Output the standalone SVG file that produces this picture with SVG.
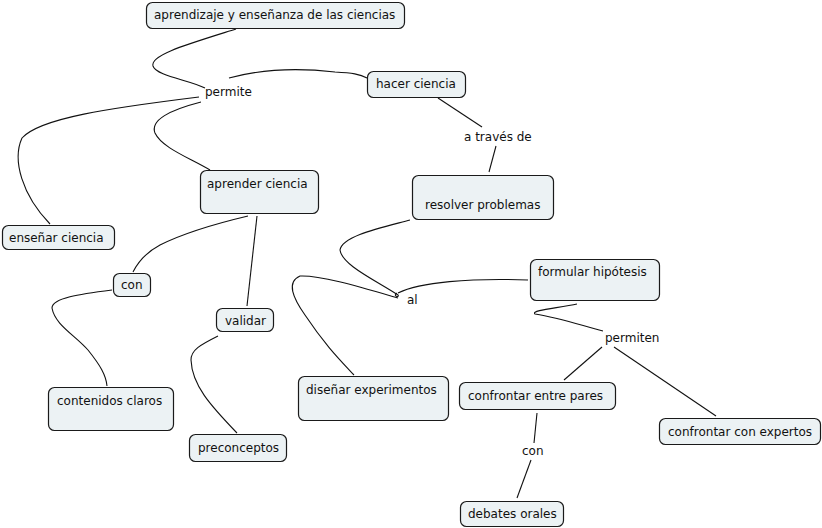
<svg xmlns="http://www.w3.org/2000/svg" width="822" height="528" viewBox="0 0 822 528">
<style>
.n rect{fill:#ecf2f4;stroke:#1a1a1a;stroke-width:1.2}
text{font-family:"DejaVu Sans",Verdana,sans-serif;font-size:12px;fill:#111}
.c path{fill:none;stroke:#111;stroke-width:1.1}
</style>
<rect width="822" height="528" fill="#fff"/>
<g class="c">
<path d="M236,29 C185,45 150,55 153,66 C156,76 190,80 205,88"/>
<path d="M229,78 C262,69 300,68 335,72 C352,73 360,74 367,78"/>
<path d="M199,97 C110,108 40,118 22,138 C12,160 22,195 50,224"/>
<path d="M201,102 C170,110 150,120 155,133 C162,148 190,158 210,170"/>
<path d="M438,98 L482,127"/>
<path d="M496,146 L489,172"/>
<path d="M410,220 C380,228 342,236 340,250 C342,265 375,280 398,295 C400,298 392,296 397,293"/>
<path d="M398,293 C420,282 470,278 528,280"/>
<path d="M398,298 C360,287 320,275 300,276 C286,282 293,298 305,315 C325,345 340,360 354,375"/>
<path d="M577,304 C560,308 530,310 535,314 C560,318 580,325 603,331"/>
<path d="M602,347 L564,380"/>
<path d="M614,347 L716,416"/>
<path d="M537,413 L534,443"/>
<path d="M531,460 L517,498"/>
<path d="M248,216 C210,225 180,235 160,245 C145,253 138,262 133,272"/>
<path d="M257,216 L247,306"/>
<path d="M112,290 C80,294 52,298 52,308 C55,325 75,335 88,350 C100,365 106,375 107,386"/>
<path d="M218,336 C200,345 191,350 191,360 C192,385 210,405 237,433"/>
</g>
<g id="n1" class="n"><rect x="146.5" y="2.5" width="258" height="26" rx="6"/><text x="154" y="19">aprendizaje y enseñanza de las ciencias</text></g>
<g id="n2" class="n"><rect x="367.5" y="71.5" width="98" height="26" rx="6"/><text x="376" y="88">hacer ciencia</text></g>
<g id="n3" class="n"><rect x="200.5" y="170.5" width="118" height="43" rx="6"/><text x="207" y="188">aprender ciencia</text></g>
<g id="n4" class="n"><rect x="2.5" y="225.5" width="112" height="24" rx="6"/><text x="9" y="242">enseñar ciencia</text></g>
<g id="n5" class="n"><rect x="412.5" y="175.5" width="141" height="44" rx="6"/><text x="425" y="209">resolver problemas</text></g>
<g id="n6" class="n"><rect x="530.5" y="259.5" width="129" height="41" rx="6"/><text x="538" y="276">formular hipótesis</text></g>
<g id="n7" class="n"><rect x="113.5" y="273.5" width="37" height="23" rx="6"/><text x="121" y="289">con</text></g>
<g id="n8" class="n"><rect x="216.5" y="308.5" width="57" height="23" rx="6"/><text x="225" y="325">validar</text></g>
<g id="n9" class="n"><rect x="48.5" y="387.5" width="125" height="43" rx="6"/><text x="57" y="405">contenidos claros</text></g>
<g id="n10" class="n"><rect x="189.5" y="434.5" width="97" height="27" rx="6"/><text x="198" y="452">preconceptos</text></g>
<g id="n11" class="n"><rect x="298.5" y="376.5" width="150" height="44" rx="6"/><text x="306" y="394">diseñar experimentos</text></g>
<g id="n12" class="n"><rect x="459.5" y="382.5" width="156" height="27" rx="6"/><text x="468" y="400">confrontar entre pares</text></g>
<g id="n13" class="n"><rect x="659.5" y="418.5" width="161" height="26" rx="6"/><text x="668" y="436">confrontar con expertos</text></g>
<g id="n14" class="n"><rect x="460.5" y="501.5" width="103" height="25" rx="6"/><text x="468" y="518">debates orales</text></g>
<g id="l1"><text x="205" y="96">permite</text></g>
<g id="l2"><text x="464" y="141">a través de</text></g>
<g id="l3"><text x="407" y="304">al</text></g>
<g id="l4"><text x="605" y="342">permiten</text></g>
<g id="l5"><text x="522" y="455">con</text></g>
</svg>
